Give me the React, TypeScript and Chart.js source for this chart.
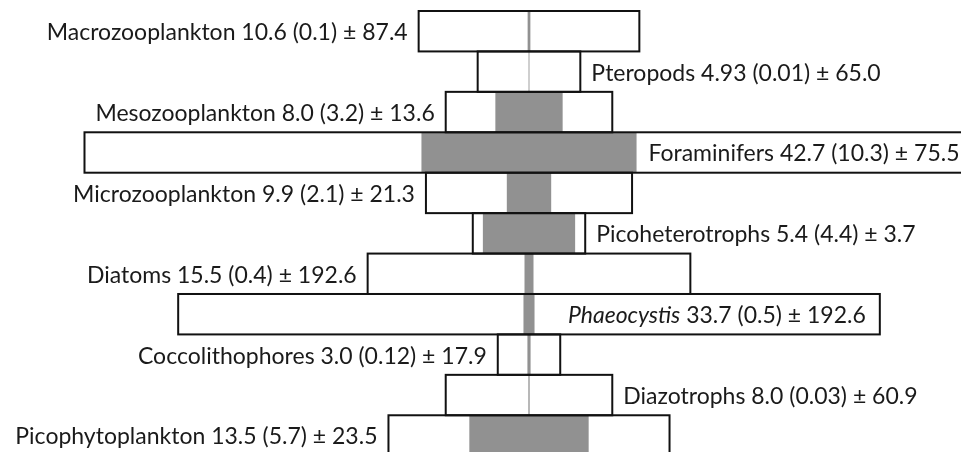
import React, { useEffect, useRef } from 'react';
import { Chart, registerables } from 'chart.js';

Chart.register(...registerables);

// ---- data ----
const groups = [
  'Macrozooplankton',
  'Pteropods',
  'Mesozooplankton',
  'Foraminifers',
  'Microzooplankton',
  'Picoheterotrophs',
  'Diatoms',
  'Phaeocystis',
  'Coccolithophores',
  'Diazotrophs',
  'Picophytoplankton',
];
const totalBiomass = [10.6, 4.93, 8.0, 42.7, 9.9, 5.4, 15.5, 33.7, 3.0, 8.0, 13.5];
const medianBiomass = [0.1, 0.01, 3.2, 10.3, 2.1, 4.4, 0.4, 0.5, 0.12, 0.03, 5.7];
const stdDev = [87.4, 65.0, 13.6, 75.5, 21.3, 3.7, 192.6, 192.6, 17.9, 60.9, 23.5];
const labelSide = ['left', 'right', 'left', 'inside', 'left', 'right', 'left', 'inside', 'left', 'right', 'left'];
const italicGroups = ['Phaeocystis'];

// ---- style ----
const CANVAS_W = 961;
const CANVAS_H = 458;
const CENTER_PX = 529;
const PX_PER_UNIT = 10.41;
const FONT_FAMILY = 'Lato, "Open Sans", sans-serif';
const FONT_SIZE = 23;
const TEXT_COLOR = '#1a1a1a';
const GRAY = '#919191';

const fmt = (v: number) => {
  const s = String(v);
  return s.includes('.') ? s : v.toFixed(1);
};

const outlineAndLabels = {
  id: 'outlineAndLabels',
  afterDatasetsDraw(chart: any) {
    const ctx: CanvasRenderingContext2D = chart.ctx;
    const meta = chart.getDatasetMeta(1);
    ctx.save();
    meta.data.forEach((el: any, i: number) => {
      const { x, y, base, height } = el.getProps(['x', 'y', 'base', 'height'], true);
      const left = Math.min(x, base);
      const right = Math.max(x, base);
      const top = y - height / 2;
      ctx.lineWidth = 2;
      ctx.strokeStyle = '#111111';
      ctx.strokeRect(left, top, right - left, height);

      const name = groups[i];
      const rest = ` ${fmt(totalBiomass[i])} (${fmt(medianBiomass[i])}) \u00b1 ${fmt(stdDev[i])}`;
      const nameFont = `${italicGroups.includes(name) ? 'italic ' : ''}${FONT_SIZE}px ${FONT_FAMILY}`;
      const restFont = `${FONT_SIZE}px ${FONT_FAMILY}`;
      ctx.font = nameFont;
      const wName = ctx.measureText(name).width;
      ctx.font = restFont;
      const wRest = ctx.measureText(rest).width;
      const total = wName + wRest;
      let startX: number;
      const side = labelSide[i];
      if (side === 'left') startX = left - 11 - total;
      else if (side === 'right') startX = right + 11;
      else startX = right - 14 - total;
      const baseline = y + 9;
      ctx.fillStyle = TEXT_COLOR;
      ctx.textAlign = 'left';
      ctx.textBaseline = 'alphabetic';
      ctx.font = nameFont;
      ctx.fillText(name, startX, baseline);
      ctx.font = restFont;
      ctx.fillText(rest, startX + wName, baseline);
    });
    ctx.restore();
  },
};

export default function App() {
  const canvasRef = useRef<HTMLCanvasElement | null>(null);

  useEffect(() => {
    document.body.style.margin = '0';
    document.body.style.overflow = 'hidden';
    const canvas = canvasRef.current;
    if (!canvas) return;
    const chart = new Chart(canvas, {
      type: 'bar',
      data: {
        labels: groups,
        datasets: [
          {
            label: 'median',
            data: medianBiomass.map((v) => [-v, v]) as any,
            backgroundColor: GRAY,
            borderWidth: 0,
            grouped: false,
            barPercentage: 1,
            categoryPercentage: 1,
          },
          {
            label: 'total',
            data: totalBiomass.map((v) => [-v, v]) as any,
            backgroundColor: '#ffffff',
            borderWidth: 0,
            grouped: false,
            barPercentage: 1,
            categoryPercentage: 1,
          },
        ],
      },
      options: {
        indexAxis: 'y',
        animation: false,
        responsive: true,
        maintainAspectRatio: false,
        layout: { padding: { top: 11, bottom: 2.3, left: 0, right: 0 } },
        plugins: {
          legend: { display: false },
          tooltip: { enabled: false },
        },
        scales: {
          x: {
            type: 'linear',
            display: false,
            min: -CENTER_PX / PX_PER_UNIT,
            max: (CANVAS_W - CENTER_PX) / PX_PER_UNIT,
          },
          y: {
            type: 'category',
            display: false,
            offset: true,
          },
        },
      },
      plugins: [outlineAndLabels],
    });
    return () => chart.destroy();
  }, []);

  return (
    <div style={{ width: CANVAS_W, height: CANVAS_H, position: 'relative', background: '#ffffff' }}>
      <canvas ref={canvasRef} />
    </div>
  );
}
